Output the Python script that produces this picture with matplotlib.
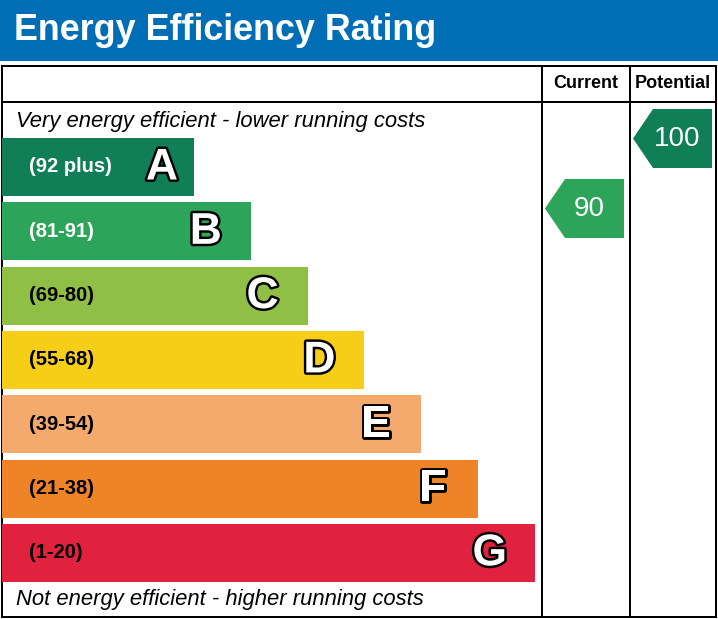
import matplotlib
matplotlib.use("Agg")
import matplotlib.pyplot as plt
from matplotlib.patches import Rectangle, Polygon
import matplotlib.patheffects as pe

# chart data
title = "Energy Efficiency Rating"
bands = ["A", "B", "C", "D", "E", "F", "G"]
ranges = ["(92 plus)", "(81-91)", "(69-80)", "(55-68)", "(39-54)", "(21-38)", "(1-20)"]
band_colors = ["#107e57", "#2ca55a", "#8fbf44", "#f6ce17", "#f3aa6c", "#ee8328", "#e1223e"]
range_text_colors = ["white", "white", "black", "black", "black", "black", "black"]
columns = ["Current", "Potential"]
ratings = [90, 100]
rating_colors = ["#2ca55a", "#107e57"]
top_note = "Very energy efficient - lower running costs"
bottom_note = "Not energy efficient - higher running costs"

W, H = 718, 619
PX = 72 / 100  # points per pixel

plt.rcParams['font.family'] = ['Liberation Sans', 'DejaVu Sans']

fig = plt.figure(figsize=(W / 100, H / 100), dpi=100)
ax = fig.add_axes([0, 0, 1, 1])
ax.set_xlim(0, W)
ax.set_ylim(H, 0)
ax.axis('off')

# header band
ax.add_patch(Rectangle((0, 0), W, 61, color="#006eb6", lw=0))
ax.text(14, 31, title, color="white", fontsize=25.8, fontweight="bold",
        ha="left", va="center")

# table frame
lw = 2 * PX
ax.add_patch(Rectangle((1.5, 66), 714.5, 550.5, fill=False, ec="black", lw=lw))
ax.plot([1.5, 716], [102, 102], color="black", lw=lw)
col_x = [542, 630, 716]
for x in col_x[:2]:
    ax.plot([x, x], [66, 616.5], color="black", lw=lw)
for i, name in enumerate(columns):
    ax.text((col_x[i] + col_x[i + 1]) / 2, 84, name, fontsize=13, fontweight="bold",
            ha="center", va="center")

# notes
ax.text(16, 121, top_note, fontsize=15.8, style="italic", ha="left", va="center")
ax.text(16, 599, bottom_note, fontsize=15.8, style="italic", ha="left", va="center")

# rating bands
top0, step, bh = 138, 64.3, 58
for i, band in enumerate(bands):
    y = top0 + i * step
    right = 194 + i * 56.8
    ax.add_patch(Rectangle((2, y), right - 2, bh, color=band_colors[i], lw=0))
    ax.text(29, y + bh / 2, ranges[i], color=range_text_colors[i], fontsize=14.5,
            fontweight="bold", ha="left", va="center")
    lx = right - 45 if band != "A" else right - 32
    ax.text(lx, y + bh / 2 + 1, band, color="white", fontsize=32, fontweight="bold",
            ha="center", va="center",
            path_effects=[pe.withStroke(linewidth=3.5, foreground="black")])

# rating arrows
aw, ah, notch = 79, 59, 20
for i, val in enumerate(ratings):
    cy = 138.5 + (100 - val) * 7.0
    tip = col_x[i] + 3
    pts = [(tip, cy), (tip + notch, cy - ah / 2), (tip + aw, cy - ah / 2),
           (tip + aw, cy + ah / 2), (tip + notch, cy + ah / 2)]
    ax.add_patch(Polygon(pts, closed=True, color=rating_colors[i], lw=0))
    ax.text(tip + 44, cy + 1, str(val), color="white", fontsize=20, ha="center", va="center")

fig.savefig("out.png", dpi=100)
